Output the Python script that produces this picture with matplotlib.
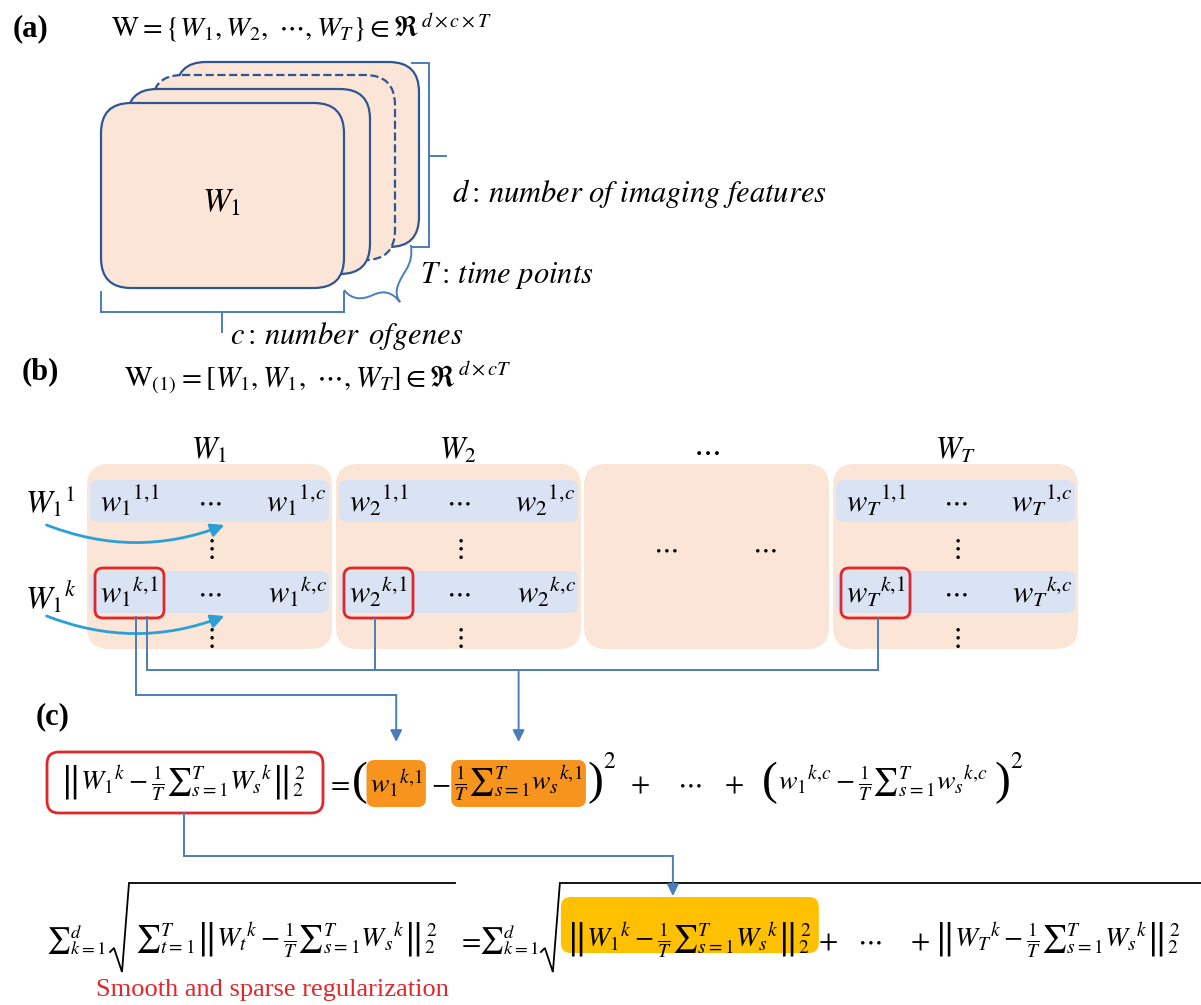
import matplotlib.pyplot as plt
from matplotlib.patches import FancyBboxPatch, FancyArrowPatch, PathPatch
from matplotlib.path import Path

plt.rcParams['mathtext.fontset'] = 'stix'

# labels and formulas
panel_labels = ['(a)', '(b)', '(c)']
tensor_formula = r'$\mathrm{W} = \{W_1, W_2,\ \cdots, W_T\} \in \Re^{\,d\times c\times T}$'
unfold_formula = r'$\mathrm{W}_{(1)} = [W_1, W_1,\ \cdots, W_T] \in \Re^{\,d\times cT}$'
dim_labels = [r'$d{:}\,number\ of\ imaging\ features$',
              r'$T{:}\,time\ points$',
              r'$c{:}\,number\ \,of genes$']
slice_names = ['1', '2', '', 'T']   # '' is the elided middle block
row_names = ['1', 'k']
regularizer_note = 'Smooth and sparse regularization'

peach = '#FBE5D6'
row_blue = '#DAE3F3'
edge_blue = '#2F5597'
line_blue = '#4A7EBB'
red = '#E3262B'
orange = '#F7941D'
yellow = '#FFC000'
arc_blue = '#2A9FD8'

fig = plt.figure(figsize=(12.01, 10.05), dpi=100)
ax = fig.add_axes([0, 0, 1, 1])
ax.set_xlim(0, 1201)
ax.set_ylim(1005, 0)
ax.axis('off')
renderer = fig.canvas.get_renderer()


def rbox(x, y, w, h, r, **kw):
    ax.add_patch(FancyBboxPatch((x, y), w, h, boxstyle=f'round,pad=0,rounding_size={r}', **kw))


def tx(x, y, s, size=22, ha='center', va='center', **kw):
    return ax.text(x, y, s, fontsize=size, ha=ha, va=va, **kw)


def chain(y, items):
    # place pieces at their preferred left edge, pushed right if they would collide
    spans = []
    end = -1e9
    for s, size, x, gap, kw in items:
        x = max(x, end + gap)
        kw = dict(kw)
        yy = y + kw.pop('dy', 0)
        t = tx(x, yy, s, size=size, ha='left', **kw)
        end = x + t.get_window_extent(renderer).width
        spans.append((x, end))
    return spans


def poly(pts, color=line_blue, lw=1.4, **kw):
    xs, ys = zip(*pts)
    ax.plot(xs, ys, color=color, lw=lw, solid_joinstyle='miter', **kw)


def arrow_down(x, y0, y1):
    ax.annotate('', xy=(x, y1), xytext=(x, y0),
                arrowprops=dict(arrowstyle='-|>,head_length=0.7,head_width=0.35',
                                color=line_blue, lw=1.4, shrinkA=0, shrinkB=0))


serif = dict(family='Liberation Serif')

# ---------------- (a) stacked slices ----------------
tx(30, 29, panel_labels[0], size=22, fontweight='bold', **serif)
tx(111, 28, tensor_formula, size=20.5, ha='left')

stack_x = [176, 152, 127, 101]
stack_y = [62, 75, 89, 103]
for i, (sx, sy) in enumerate(zip(stack_x, stack_y)):
    rbox(sx, sy, 243, 185, 30, fc=peach, ec=edge_blue, lw=1.6,
         ls='--' if i == 1 else '-')
tx(222, 202, r'$W_1$', size=24)

# brackets
poly([(412, 63), (429, 63), (429, 247), (412, 247)])
poly([(429, 156), (446, 156)])
poly([(101, 292), (101, 312), (344, 312), (344, 292)])
poly([(222, 312), (222, 332)])
brace = Path([(344, 290), (352, 300), (362, 300), (373, 295),
              (384, 290), (392, 292), (400, 302),
              (392, 292), (400, 280), (406, 270),
              (411, 262), (412, 255), (411, 245)],
             [Path.MOVETO] + [Path.CURVE4] * 12)
ax.add_patch(PathPatch(brace, fc='none', ec=line_blue, lw=1.4))

tx(452, 193, dim_labels[0], size=22, ha='left')
tx(420, 275, dim_labels[1], size=22, ha='left')
tx(230, 336, dim_labels[2], size=22, ha='left')

# ---------------- (b) unfolded matrix ----------------
tx(40, 372, panel_labels[1], size=22, fontweight='bold', **serif)
tx(124, 378, unfold_formula, size=21, ha='left')

box_x = [87, 336, 584, 833]
row_y = [501, 592]
for x0, name in zip(box_x, slice_names):
    cx = x0 + 122
    rbox(x0, 464, 245, 185, 22, fc=peach, ec='none')
    tx(cx, 450, r'$W_{%s}$' % name if name else r'$\cdots$', size=22)
    if not name:
        tx(x0 + 81, 548, r'$\cdots$', size=20)
        tx(x0 + 180, 548, r'$\cdots$', size=20)
        continue
    for yc, r in zip(row_y, row_names):
        rbox(x0 + 3, yc - 21, 239, 42, 8, fc=row_blue, ec='none')
        tx(x0 + 13, yc, r'${w_{%s}}^{%s,\!1}$' % (name, r), ha='left')
        tx(cx, yc, r'$\cdots$', size=20)
        tx(x0 + 240, yc, r'${w_{%s}}^{%s,\!c}$' % (name, r), ha='right')
    tx(cx, 548, r'$\vdots$', size=20)
    tx(cx, 637, r'$\vdots$', size=20)
    rbox(x0 + 8, 568, 69, 50, 8, fc='none', ec=red, lw=2)

for yc, r in zip([502, 597], row_names):
    tx(25, yc, r'${W_1}^{%s}$' % r, ha='left', size=23)
for y0 in [524, 615]:
    ax.add_patch(FancyArrowPatch((44, y0), (227, y0), connectionstyle='arc3,rad=0.2',
                                 arrowstyle='-|>,head_length=8,head_width=4',
                                 mutation_scale=1, color=arc_blue, lw=2))

# ---------------- (c) regularizer ----------------
tx(53, 717, panel_labels[2], size=22, fontweight='bold', **serif)

mean_s = r'\frac{1}{T}{\sum}_{s{=}1}^{T}'
norm_1 = r'$\left\Vert {W_1}^{k} - %s{W_s}^{k}\right\Vert_2^{\,2}$' % mean_s
norm_t = r'${\sum}_{t{=}1}^{T}\left\Vert {W_t}^{k} - %s{W_s}^{k}\right\Vert_2^{\,2}$' % mean_s
norm_T = r'$\left\Vert {W_T}^{k} - %s{W_s}^{k}\right\Vert_2^{\,2}$' % mean_s
sum_k = r'${\sum}_{k{=}1}^{d}$'

yc = 783
sz = 20
sp = chain(yc, [
    (norm_1, sz, 60, 0, {}),
    (r'${=}$', sz, 326, 4, {}),
    ('(', 34, 344, 2, serif),
    (r'${w_1}^{k,\!1}$', sz, 367, 2, {}),
    (r'$-$', sz, 431, 4, {}),
    (r'$%s{w_s}^{k,\!1}$' % mean_s, sz, 454, 4, {}),
    (')', 34, 587, 1, serif),
    (r'$2$', 17, 599, 0, dict(dy=-22)),
    (r'$+$', sz, 630, 4, {}),
    (r'$\cdots$', sz, 677, 4, {}),
    (r'$+$', sz, 724, 4, {}),
    ('(', 34, 762, 4, serif),
    (r'${w_1}^{k,\!c} - %s{w_s}^{k,\!c}$' % mean_s, sz, 772, 0, {}),
    (')', 34, 994, 1, serif),
    (r'$2$', 17, 1008, 0, dict(dy=-22)),
])
rbox(47, 752, max(276, sp[0][1] - 47 + 12), 61, 12, fc='none', ec=red, lw=2)
for k in (3, 5):
    rbox(sp[k][0] - 3, 760, sp[k][1] - sp[k][0] + 6, 47, 8, fc=orange, ec='none', zorder=0.5)

# connectors from (b) into (c)
x_a = (sp[3][0] + sp[3][1]) / 2
x_b = (sp[5][0] + sp[5][1]) / 2
poly([(136, 617), (136, 695), (x_a, 695)])
arrow_down(x_a, 695, 742)
poly([(147, 617), (147, 670), (878, 670)])
poly([(375, 619), (375, 670)])
poly([(878, 618), (878, 670)])
arrow_down(x_b, 670, 742)

# square-root signs need room in front of their contents
root_room = 27
yb = 940
bt = chain(yb, [
    (sum_k, 19, 46, 0, {}),
    (norm_t, sz, 135, root_room, {}),
    (r'$=$', sz, 457, 4, {}),
    (sum_k, 19, 466, -2, {}),
    (norm_1, sz, 556, root_room, {}),
    (r'$+$', sz, 815, 6, {}),
    (r'$\cdots$', sz, 857, 6, {}),
    (r'$+$', sz, 910, 6, {}),
    (norm_T, sz, 932, 4, {}),
])


def radical(x0, x1):
    poly([(x0, 952), (x0 + 4, 948), (x0 + 12, 972), (x0 + 19, 883), (x1, 883)],
         color='black', lw=1.3)


radical(bt[1][0] - 25, max(455, bt[1][1] + 4))
radical(bt[4][0] - 25, 1201)
rbox(bt[4][0] - 5, 897, max(255, bt[4][1] - bt[4][0] + 12), 56, 10,
     fc=yellow, ec='none', zorder=0.5)

x_y = bt[4][0] + 107
poly([(184, 813), (184, 856), (x_y, 856)])
arrow_down(x_y, 856, 896)

tx(96, 990, regularizer_note, size=19, ha='left', color=red, **serif)

fig.savefig('out.png', dpi=100)
